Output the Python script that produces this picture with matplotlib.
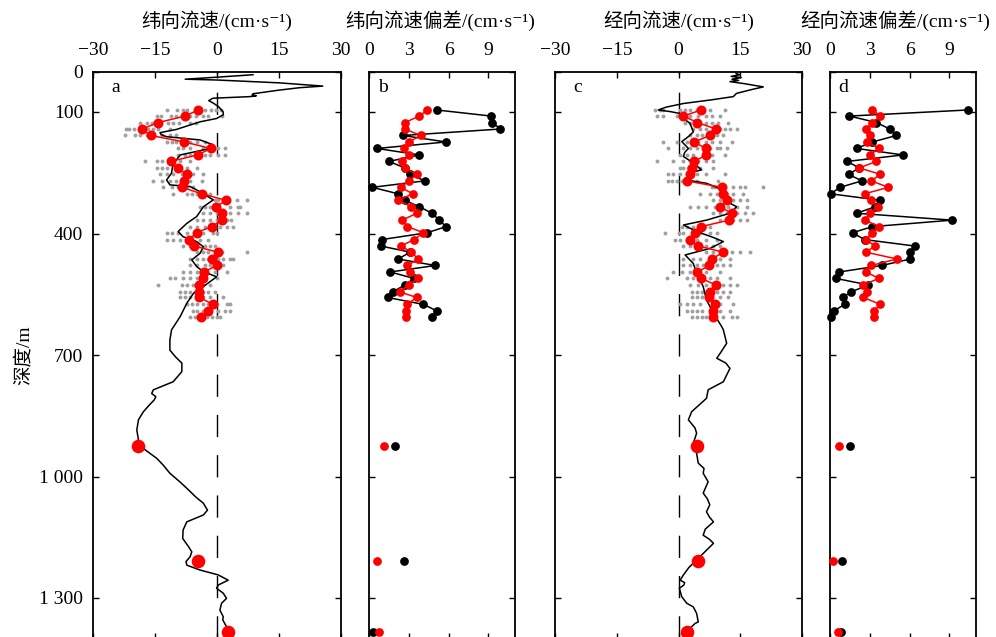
import matplotlib
matplotlib.use('Agg')
import matplotlib.pyplot as plt

plt.rcParams['font.family'] = ['Liberation Serif', 'Noto Sans CJK SC', 'DejaVu Serif']
plt.rcParams['font.size'] = 14
plt.rcParams['axes.unicode_minus'] = True

# ---------------- data ----------------
titles = ['纬向流速/(cm·s⁻¹)', '纬向流速偏差/(cm·s⁻¹)', '经向流速/(cm·s⁻¹)', '经向流速偏差/(cm·s⁻¹)']
letters = ['a', 'b', 'c', 'd']
ytick_vals = [0, 100, 400, 700, 1000, 1300]
ytick_labels = ['0', '100', '400', '700', '1 000', '1 300']
speed_ticks = [-30, -15, 0, 15, 30]
dev_ticks = [0, 3, 6, 9]

depth_lev = [95, 110, 126, 142, 158, 174, 190, 206, 222, 238, 254, 270, 286, 302, 318, 334,
             350, 367, 383, 398, 415, 431, 446, 463, 479, 495, 511, 527, 544, 558, 575, 591, 606]
deep_lev = [924, 1209, 1383]

# red mean profiles
u_mean = [-4.5, -7.7, -14.2, -18.1, -16.0, -7.9, -1.45, -4.7, -11.2, -9.5, -7.3, -7.9, -8.5, -3.7,
          2.2, -0.24, 1.2, 1.2, -1.3, -4.9, -6.8, -5.5, 0.2, -1.3, -0.1, -3.1, -3.5, -4.3, -4.3,
          -4.3, -0.9, -2.1, -3.9]
u_deep = [-19.0, -4.7, 2.6]
v_mean = [5.5, 1.2, 4.6, 9.1, 7.6, 3.8, 6.6, 6.8, 3.8, 3.4, 2.8, 2.0, 10.5, 10.7, 11.7, 10.1, 12.9,
          12.3, 5.5, 4.0, 2.8, 4.8, 10.9, 8.1, 7.5, 4.6, 5.5, 9.1, 7.6, 7.5, 8.9, 8.3, 8.4]
v_deep = [4.4, 4.8, 2.1]

# deviations (black / red)
ub_black = [5.1, 9.2, 9.3, 9.9, 2.55, 5.8, 0.6, 3.8, 1.5, 2.7, 3.1, 4.2, 0.25, 2.2, 2.7, 3.8, 4.75,
            5.3, 5.8, 4.4, 0.96, 0.9, 3.1, 2.2, 5.0, 1.6, 3.4, 2.7, 1.8, 1.4, 4.1, 5.1, 4.75]
ub_red = [4.4, 3.8, 2.7, 2.7, 3.9, 3.0, 2.6, 3.0, 2.5, 2.7, 3.6, 3.0, 2.4, 3.3, 2.2, 3.2, 3.6, 2.5,
          2.9, 4.1, 3.4, 2.4, 3.2, 3.7, 2.9, 3.1, 3.7, 3.0, 2.3, 3.6, 2.85, 2.8, 2.8]
ub_black_deep = [1.97, 2.6, 0.28]
ub_red_deep = [1.14, 0.58, 0.78]

vd_black = [10.4, 1.46, 3.5, 4.5, 5.0, 3.2, 2.0, 5.5, 1.3, 2.2, 1.4, 2.4, 0.76, 0.05, 3.8, 3.4, 2.0,
            9.2, 3.2, 1.7, 2.6, 6.4, 6.0, 6.05, 3.9, 0.7, 0.45, 2.9, 1.6, 0.96, 1.1, 0.3, 0.08]
vd_red = [3.2, 3.8, 3.2, 2.7, 3.0, 2.8, 3.7, 3.0, 3.5, 2.2, 3.8, 3.1, 4.4, 2.6, 3.1, 3.6, 3.0, 2.65,
          3.7, 3.2, 2.7, 3.4, 2.7, 5.05, 3.1, 2.7, 3.7, 2.45, 2.8, 2.5, 3.8, 3.3, 3.3]
vd_black_deep = [1.5, 0.93, 0.83]
vd_red_deep = [0.68, 0.25, 0.63]

# grey individual samples per level
u_gray = [
    [-12.0, -9.6, -8.3, -7.2, -2.9, -1.5, -0.2, 0.9],
    [-14.6, -13.6, -11.1, -10.0, -6.5, -5.1, -3.3, -2.1, 1.3],
    [-18.6, -17.0, -15.8, -11.8, -10.6, -9.1, -6.5, -5.1],
    [-22.0, -21.2, -20.2, -16.6, -15.4, -14.2, -11.4],
    [-22.3, -19.8, -18.6, -17.0, -13.4, -11.4, -9.8],
    [-12.2, -11.0, -9.8, -6.5, -4.9, -2.9],
    [-9.4, -8.2, -6.5, -3.3, -2.1, 0.3, 1.9],
    [-9.4, -7.7, -6.5, -2.9, -1.7, 0.3, 1.9],
    [-17.4, -14.6, -13.4, -10.6, -9.0, -6.5],
    [-14.6, -13.4, -12.2, -9.8, -7.3, -4.9],
    [-13.8, -12.2, -10.6, -8.5, -5.7, -3.3],
    [-15.4, -13.4, -11.4, -9.8, -6.5, -3.7],
    [-13.0, -11.0, -9.4, -7.3, -5.7],
    [-10.6, -7.3, -6.1, -4.9, -2.9, -1.7],
    [-0.5, 0.3, 1.5, 2.3, 4.8, 7.2],
    [-4.1, -2.9, -1.7, -0.5, 3.1, 5.2, 5.6],
    [-3.3, -1.7, -0.1, 1.5, 3.1, 5.2, 7.2],
    [-4.9, -3.3, -1.7, -0.1, 2.3, 3.5],
    [-6.5, -4.9, -2.9, -0.5, 0.7, 2.3, 3.9],
    [-12.2, -11.0, -9.4, -7.3, -3.3, -0.9, -0.1],
    [-12.2, -10.6, -9.0, -6.5, -4.1, -2.1],
    [-8.2, -6.5, -4.9, -2.9, -1.7, -0.5],
    [-4.9, -3.3, -2.1, -0.1, 1.1, 7.2],
    [-6.5, -4.9, -3.3, -2.1, 0.3, 1.5, 3.1, 3.9],
    [-6.5, -4.9, -2.9, -1.7, -0.1, 1.5],
    [-8.2, -6.5, -4.9, -4.1, -2.5, -0.5, 2.3],
    [-11.4, -10.2, -8.2, -6.5, -4.9, -2.9, -0.1],
    [-14.2, -8.5, -7.3, -5.7, -3.3, -1.7],
    [-9.0, -7.7, -6.5, -5.3, -3.3, -2.1, -0.5],
    [-9.0, -7.7, -6.5, -4.9, -3.3, -1.7, 1.5],
    [-7.3, -6.1, -4.9, -3.3, -2.1, -0.1, 2.3, 3.1],
    [-5.7, -4.9, -3.3, -1.7, 0.3, 1.9, 3.1],
    [-6.5, -5.3, -4.1, -2.5, -1.3, -0.1, 0.7],
]
v_gray = [
    [-5.7, -4.5, -3.7, 0.36, 1.6, 2.8, 4.4, 6.0, 7.6, 11.3],
    [-5.3, -3.7, -0.45, 0.78, 2.8, 4.8, 6.8, 8.1, 10.1],
    [1.6, 2.8, 4.0, 6.8, 8.1, 9.7, 12.1],
    [3.6, 5.2, 6.8, 10.1, 11.3, 12.5, 14.1],
    [2.8, 4.4, 5.6, 7.2, 9.3, 10.9],
    [-3.7, -0.45, 2.0, 4.8, 6.8, 8.1, 10.1, 12.9],
    [-2.5, 1.2, 2.8, 4.4, 7.6, 9.3, 10.1, 11.7],
    [0.36, 2.0, 3.6, 6.8, 8.1, 11.3],
    [-5.3, -1.3, 1.2, 2.8, 4.8, 6.8, 8.5],
    [0.36, 1.2, 2.4, 3.6, 5.2, 8.5],
    [-2.5, -1.3, 0.36, 2.0, 4.4, 6.8, 11.3],
    [-2.5, -1.7, -0.45, 0.78, 2.8, 4.4, 9.7],
    [8.1, 8.9, 10.9, 13.3, 14.9, 16.1, 20.6],
    [5.2, 7.6, 9.3, 11.7, 13.3, 15.7],
    [8.5, 10.1, 11.7, 13.3, 14.9, 16.6],
    [2.8, 4.8, 6.8, 8.9, 12.1, 14.1, 16.6],
    [8.5, 10.1, 11.7, 14.1, 16.1, 18.2],
    [10.1, 11.7, 13.3, 14.9, 16.6],
    [0.78, 2.0, 3.6, 5.2, 6.4, 7.6],
    [-3.3, 0.0, 1.2, 3.6, 5.2, 7.6, 9.3],
    [-0.85, 0.36, 2.0, 4.4, 6.8, 9.3],
    [1.2, 2.8, 4.4, 6.8, 8.5, 10.1],
    [6.8, 8.5, 10.1, 12.9, 14.9, 17.4],
    [1.2, 3.6, 5.2, 8.5, 10.1, 12.5],
    [1.2, 2.8, 4.4, 6.0, 9.3, 10.9, 12.5],
    [-1.3, 0.78, 2.8, 4.8, 6.8, 10.1],
    [-2.9, 2.0, 3.6, 6.0, 7.6, 9.3, 12.5],
    [2.8, 4.8, 6.8, 9.3, 10.9, 12.5, 14.1],
    [3.2, 4.4, 5.6, 6.8, 9.3, 10.9, 12.5],
    [3.2, 4.4, 5.6, 7.6, 10.1, 12.1],
    [0.36, 2.0, 3.6, 5.2, 8.5, 10.1, 13.3],
    [2.0, 3.2, 4.4, 5.6, 8.1, 10.1, 12.5],
    [3.2, 4.4, 5.6, 6.8, 8.5, 10.9, 12.9, 14.1],
]

# continuous black profiles
u_prof_depth = [8, 14, 19, 21, 28, 36, 40, 46, 55, 58, 60, 62, 66, 72, 78, 88, 100, 107, 116, 124,
                132, 143, 151, 156, 161, 169, 181, 192, 206, 223, 237, 251, 268, 280, 284, 297, 317,
                334, 358, 375, 395, 408, 420, 433, 449, 465, 482, 494, 507, 519, 531, 548, 572, 605,
                638, 663, 688, 705, 720, 741, 766, 786, 795, 803, 811, 825, 840, 860, 885, 910, 934,
                955, 972, 992, 1013, 1033, 1050, 1066, 1083, 1095, 1112, 1132, 1153, 1173, 1186,
                1198, 1210, 1219, 1231, 1243, 1256, 1262, 1268, 1276, 1288, 1301, 1313, 1330, 1346,
                1354, 1371, 1383, 1395]
u_prof = [8.7, 0.0, -7.7, 0.0, 15.0, 25.6, 20.0, 15.0, 8.7, 8.5, 9.5, 8.0, -1.0, -2.0, -0.9, 0.5,
          1.5, 1.5, -0.1, -4.0, -6.5, -9.8, -13.8, -13.5, -12.2, -4.1, -0.9, -2.5, -8.9, -10.2,
          -10.8, -11.0, -12.2, -11.4, -6.5, -4.1, -0.9, -3.3, -4.9, -7.3, -9.4, -8.2, -4.9, -3.3,
          -4.1, -6.1, -4.9, -3.3, -0.1, -1.7, -3.3, -5.7, -7.3, -8.9, -11.0, -11.4, -11.4, -10.0,
          -8.5, -8.5, -10.6, -15.4, -15.8, -14.8, -15.2, -16.5, -17.8, -19.0, -19.4, -19.0, -17.4,
          -14.6, -13.0, -11.4, -9.0, -6.9, -5.2, -3.3, -2.3, -3.3, -7.3, -8.2, -8.3, -6.9, -6.1,
          -6.5, -7.5, -7.3, -4.1, 0.3, 2.7, 1.5, 0.3, -0.1, 1.5, 2.3, 1.1, 0.7, 1.5, 1.4, 2.3, 3.1,
          3.5]
v_prof_depth = [5, 8, 12, 15, 19, 22, 25, 30, 38, 44, 54, 62, 70, 79, 88, 95, 99, 103, 116, 128,
                149, 160, 173, 190, 200, 210, 225, 243, 251, 268, 276, 293, 309, 325, 334, 350, 367,
                379, 395, 410, 420, 437, 453, 474, 498, 531, 564, 597, 630, 638, 671, 690, 708, 720,
                733, 766, 786, 807, 840, 860, 880, 893, 918, 943, 967, 980, 992, 1013, 1041, 1055,
                1070, 1087, 1100, 1112, 1130, 1145, 1155, 1165, 1190, 1206, 1225, 1243, 1256, 1262,
                1268, 1276, 1297, 1313, 1322, 1338, 1359, 1363, 1375]
v_prof = [14.0, 14.9, 12.8, 15.2, 13.0, 14.6, 12.5, 16.0, 20.6, 18.0, 14.1, 13.3, 8.0, 1.2, -3.0,
          -4.9, -2.0, 0.0, 1.2, 2.8, 3.6, 2.5, 0.8, 2.4, 1.5, 1.2, 3.5, 5.6, 2.4, 2.0, 6.8, 10.9,
          11.7, 12.5, 14.1, 12.5, 6.8, 1.2, 4.4, 8.5, 10.9, 7.6, 1.6, 3.6, 4.4, 6.0, 6.8, 8.5, 10.5,
          10.9, 11.7, 10.5, 9.3, 11.5, 12.5, 10.9, 7.2, 6.8, 3.2, 2.4, 4.0, 4.4, 3.6, 4.4, 4.8, 6.2,
          6.0, 7.2, 6.0, 7.0, 7.6, 6.8, 7.5, 8.5, 6.5, 6.0, 7.5, 8.5, 6.0, 4.4, 2.5, 1.2, 0.4, 1.5,
          1.3, 0.2, 0.8, 2.0, 3.6, 4.4, 4.8, 4.0, 2.8]

# ---------------- figure ----------------
W, H = 996, 637
fig = plt.figure(figsize=(W / 100, H / 100), dpi=100)

top_px, bot_px = 71.5, 638.5
ax_px = [(93, 341), (369, 515), (555, 802), (830, 976)]
title_x = [0.5, 0.49, 0.5, 0.445]
axes = []
for (l, r) in ax_px:
    ax = fig.add_axes([l / W, 1 - bot_px / H, (r - l) / W, (bot_px - top_px) / H])
    axes.append(ax)

RED = '#ff0000'
GRAY = '#a0a0a0'


def style(ax, xlim, xticks, title, tx, letter, show_y):
    ax.set_xlim(*xlim)
    ax.set_ylim(1400, 0)
    ax.set_xticks(xticks)
    ax.set_yticks(ytick_vals)
    ax.xaxis.tick_top()
    ax.xaxis.set_label_position('top')
    ax.tick_params(axis='both', which='both', direction='in', length=4.5, width=1.0,
                   top=True, bottom=True, left=True, right=True,
                   labeltop=True, labelbottom=False, labelleft=show_y, labelright=False)
    ax.tick_params(axis='x', pad=9)
    ax.tick_params(axis='y', pad=7)
    if show_y:
        ax.set_yticklabels(ytick_labels)
    ax.set_xlabel(title, labelpad=11, x=tx)
    for s in ax.spines.values():
        s.set_linewidth(1.3)
    ax.text(0.093, 0.972, letter, transform=ax.transAxes, ha='center', va='center')


# panel a and c: speeds
for ax, gray, mean, deep, pd_, pv in [
        (axes[0], u_gray, u_mean, u_deep, u_prof_depth, u_prof),
        (axes[2], v_gray, v_mean, v_deep, v_prof_depth, v_prof)]:
    ax.axvline(0, color='black', lw=1.0, linestyle=(0, (16, 13)), zorder=1)
    for dep, row in zip(depth_lev, gray):
        ax.plot(row, [dep] * len(row), 'o', color=GRAY, ms=2.8, mec='none', zorder=2)
    ax.plot(pv, pd_, color='black', lw=1.1, zorder=3)
    ax.plot(mean, depth_lev, '-o', color=RED, lw=1.1, ms=7.2, mec='none', zorder=4)
    ax.plot(deep, deep_lev, 'o', color=RED, ms=9.8, mec='none', zorder=4)

# panel b and d: deviations
for ax, blk, red, blk_d, red_d in [
        (axes[1], ub_black, ub_red, ub_black_deep, ub_red_deep),
        (axes[3], vd_black, vd_red, vd_black_deep, vd_red_deep)]:
    ax.plot(blk, depth_lev, '-o', color='black', lw=1.1, ms=6.3, mec='none', zorder=3, clip_on=False)
    ax.plot(red, depth_lev, '-o', color=RED, lw=1.1, ms=6.3, mec='none', zorder=4)
    ax.plot(blk_d, deep_lev, 'o', color='black', ms=6.3, mec='none', zorder=3, clip_on=False)
    ax.plot(red_d, deep_lev, 'o', color=RED, ms=6.3, mec='none', zorder=4, clip_on=False)

for i, ax in enumerate(axes):
    xl = (-30, 30) if i in (0, 2) else (0, 11)
    xt = speed_ticks if i in (0, 2) else dev_ticks
    style(ax, xl, xt, titles[i], title_x[i], letters[i], i == 0)

axes[0].set_ylabel('深度/m', labelpad=5)

fig.savefig('out.png', dpi=100)
